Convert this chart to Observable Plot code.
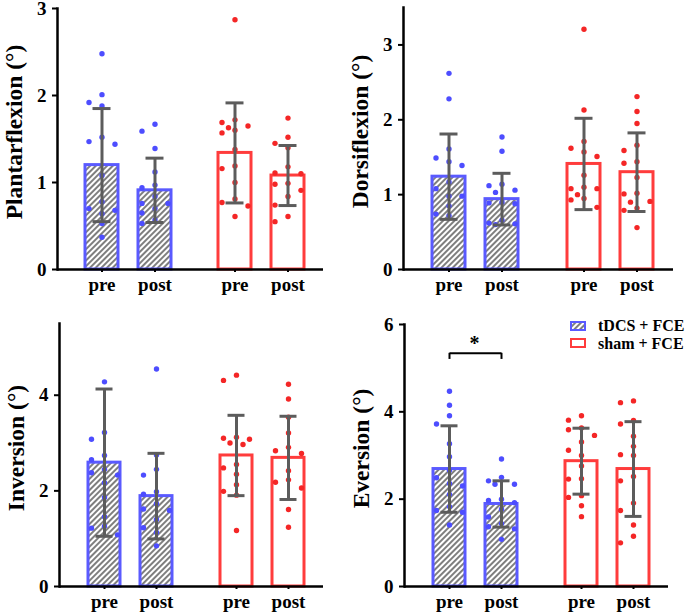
<!DOCTYPE html>
<html><head><meta charset="utf-8">
<script src="https://cdn.jsdelivr.net/npm/d3@7"></script>
<script src="https://cdn.jsdelivr.net/npm/@observablehq/plot@0.6"></script>
<style>
body{margin:0;background:#fff;}
#wrap{position:relative;width:685px;height:614px;overflow:hidden;font-family:'Liberation Serif','Times New Roman',serif;}
.panel{position:absolute;}
.legend{position:absolute;left:570px;top:317px;font-weight:bold;font-size:16px;line-height:17.5px;color:#000;}
.legend div{display:flex;align-items:center;white-space:nowrap;}
.legend svg{margin-right:12px;}
</style></head>
<body>
<svg width="0" height="0" style="position:absolute">
<defs><pattern id="hatch" width="4" height="4" patternUnits="userSpaceOnUse" patternTransform="rotate(45)">
<rect width="4" height="4" fill="#fff"/><line x1="1" y1="0" x2="1" y2="4" stroke="#5e5e5e" stroke-width="1.6"/></pattern></defs></svg>
<div id="wrap"></div>
<script>
const groups = ["tDCS", "sham"];
const times = ["pre", "post"];
const legendLabels = ["tDCS + FCE", "sham + FCE"];

// Plantarflexion
const plantarTdcsPre = [2.48, 2.01, 1.92, 1.88, 1.52, 1.47, 1.44, 1.08, 0.78, 0.70, 0.68, 0.64, 0.53, 0.37];
const plantarTdcsPost = [1.67, 1.59, 1.39, 1.12, 0.97, 0.94, 0.84, 0.76, 0.76, 0.70, 0.65, 0.57, 0.53];
const plantarShamPre = [2.87, 1.72, 1.69, 1.65, 1.63, 1.60, 1.57, 1.38, 1.19, 1.16, 1.00, 0.81, 0.77, 0.73, 0.61];
const plantarShamPost = [1.74, 1.52, 1.45, 1.40, 1.18, 1.11, 1.10, 0.99, 0.98, 0.91, 0.84, 0.74, 0.61, 0.55];
const plantarMean = [1.20, 0.91, 1.34, 1.08];
const plantarSD = [0.65, 0.37, 0.575, 0.345];

// Dorsiflexion
const dorsiTdcsPre = [2.62, 2.28, 1.61, 1.49, 1.44, 1.39, 1.17, 1.08, 0.98, 0.98, 0.85, 0.74, 0.72];
const dorsiTdcsPost = [1.77, 1.58, 1.14, 1.12, 1.06, 1.03, 0.90, 0.89, 0.88, 0.66, 0.62, 0.61, 0.60];
const dorsiShamPre = [3.21, 2.13, 1.71, 1.62, 1.57, 1.51, 1.26, 1.10, 1.08, 1.08, 1.00, 0.95, 0.93, 0.83];
const dorsiShamPost = [2.31, 2.11, 1.95, 1.66, 1.59, 1.44, 1.42, 1.23, 1.02, 1.01, 0.91, 0.90, 0.82, 0.79, 0.56];
const dorsiMean = [1.24, 0.94, 1.41, 1.30];
const dorsiSD = [0.57, 0.345, 0.61, 0.525];

// Inversion
const invTdcsPre = [4.28, 3.22, 3.08, 2.74, 2.65, 2.45, 2.38, 2.33, 2.17, 1.86, 1.46, 1.26, 1.22, 1.08];
const invTdcsPost = [4.55, 2.75, 2.45, 2.33, 1.98, 1.93, 1.73, 1.62, 1.59, 1.40, 1.23, 1.13, 0.85];
const invShamPre = [4.42, 4.31, 3.12, 3.10, 3.08, 3.00, 2.97, 2.55, 2.48, 2.35, 2.13, 1.99, 1.91, 1.17];
const invShamPost = [4.23, 3.92, 3.54, 3.21, 2.91, 2.84, 2.78, 2.42, 2.23, 2.18, 2.06, 1.61, 1.24];
const invMean = [2.59, 1.89, 2.74, 2.69];
const invSD = [1.54, 0.895, 0.84, 0.87];

// Eversion
const evTdcsPre = [4.47, 4.15, 3.91, 3.72, 3.27, 2.97, 2.66, 2.49, 2.36, 2.30, 2.11, 1.83, 1.74, 1.70, 1.41];
const evTdcsPost = [2.92, 2.50, 2.42, 2.34, 2.34, 2.00, 1.97, 1.92, 1.77, 1.59, 1.44, 1.37, 1.32, 1.08];
const evShamPre = [3.91, 3.81, 3.63, 3.59, 3.46, 3.31, 3.12, 3.00, 2.76, 2.47, 2.46, 2.08, 2.04, 1.85, 1.60];
const evShamPost = [4.25, 4.21, 3.80, 3.72, 3.44, 3.21, 3.02, 3.00, 2.52, 2.42, 1.91, 1.74, 1.41, 1.15, 1.00];
const evMean = [2.69, 1.89, 2.87, 2.69];
const evSD = [0.99, 0.53, 0.755, 1.085];

// significance annotation (Eversion, tDCS pre vs post)
const sigGroup = "tDCS";
const sigY = 5.34, sigTickY = 5.20, sigStarY = 5.56, sigLabel = "*";

const blue = "#5a5aff", red = "#ff3c3c", blueDot = "#4d4dff", redDot = "#f42626", gray = "#5c5c5c";
const fontFam = "'Liberation Serif','Times New Roman',serif";
const laneOffsets = [0, -13, 13, -6.5, 6.5];

function lanes(values, pxPerUnit) {
  const thr = 9;
  const placed = laneOffsets.map(() => []);
  return values.map(v => {
    let best = 0, bestD = -1;
    for (let k = 0; k < laneOffsets.length; k++) {
      const d = placed[k].length ? Math.min(...placed[k].map(u => Math.abs(u - v) * pxPerUnit)) : Infinity;
      if (d >= thr) { best = k; bestD = d; break; }
      if (d > bestD) { bestD = d; best = k; }
    }
    placed[best].push(v);
    return best;
  });
}

const panels = [
  {title: "Plantarflexion (°)", dots: [plantarTdcsPre, plantarTdcsPost, plantarShamPre, plantarShamPost], means: plantarMean, sds: plantarSD,
   ymax: 3, ticks: [0, 1, 2, 3], left: 0, top: 0, width: 340, height: 300, ml: 57, mr: 17, mt: 8, mb: 31},
  {title: "Dorsiflexion (°)", dots: [dorsiTdcsPre, dorsiTdcsPost, dorsiShamPre, dorsiShamPost], means: dorsiMean, sds: dorsiSD,
   ymax: 3.5, ticks: [0, 1, 2, 3], left: 340, top: 0, width: 345, height: 300, ml: 63, mr: 12, mt: 7, mb: 31},
  {title: "Inversion (°)", dots: [invTdcsPre, invTdcsPost, invShamPre, invShamPost], means: invMean, sds: invSD,
   ymax: 5.5, ticks: [0, 2, 4], left: 0, top: 300, width: 340, height: 314, ml: 58, mr: 17, mt: 23, mb: 28},
  {title: "Eversion (°)", dots: [evTdcsPre, evTdcsPost, evShamPre, evShamPost], means: evMean, sds: evSD,
   ymax: 6, ticks: [0, 2, 4, 6], left: 340, top: 300, width: 345, height: 314, ml: 63, mr: 17, mt: 24, mb: 28, sig: true}
];

const wrap = document.getElementById("wrap");

for (const cfg of panels) {
  const pxPerUnit = (cfg.height - cfg.mt - cfg.mb) / cfg.ymax;
  const rows = [];
  cfg.dots.forEach((vals, i) => {
    const g = groups[i >> 1], t = times[i % 2];
    const ln = lanes(vals, pxPerUnit);
    vals.forEach((v, j) => rows.push({group: g, time: t, value: v, lane: ln[j]}));
  });
  const stats = cfg.means.map((m, i) => ({group: groups[i >> 1], time: times[i % 2], mean: m, lo: m - cfg.sds[i], hi: m + cfg.sds[i]}));
  const marks = [
    Plot.barY(stats.filter(d => d.group === "tDCS"), {fx: "group", x: "time", y: "mean", fill: "url(#hatch)", stroke: blue, strokeWidth: 3}),
    Plot.barY(stats.filter(d => d.group === "sham"), {fx: "group", x: "time", y: "mean", fill: "white", stroke: red, strokeWidth: 3})
  ];
  laneOffsets.forEach((off, k) => {
    marks.push(Plot.dot(rows.filter(d => d.lane === k && d.group === "tDCS"), {fx: "group", x: "time", y: "value", r: 2.7, fill: blueDot, dx: off}));
    marks.push(Plot.dot(rows.filter(d => d.lane === k && d.group === "sham"), {fx: "group", x: "time", y: "value", r: 2.7, fill: redDot, dx: off}));
  });
  marks.push(
    Plot.ruleX(stats, {fx: "group", x: "time", y1: "lo", y2: "hi", stroke: gray, strokeWidth: 3}),
    Plot.tickY(stats, {fx: "group", x: "time", y: "hi", stroke: gray, strokeWidth: 3, insetLeft: 7.5, insetRight: 7.5}),
    Plot.tickY(stats, {fx: "group", x: "time", y: "lo", stroke: gray, strokeWidth: 3, insetLeft: 7.5, insetRight: 7.5}),
    Plot.ruleY([0], {stroke: "black", strokeWidth: 2.5}),
    Plot.frame({anchor: "left", facetAnchor: "left", stroke: "black", strokeWidth: 2.5}),
    Plot.axisX({tickSize: 3, tickPadding: 5, fontSize: 19, strokeWidth: 2}),
    Plot.axisY({ticks: cfg.ticks, tickFormat: d3.format("d"), tickSize: 5, tickPadding: 6, fontSize: 19, strokeWidth: 2, label: null}),
    Plot.text([{group: groups[0], title: cfg.title}], {fx: "group", text: "title", frameAnchor: "left", rotate: -90, lineAnchor: "top", textAnchor: "middle", dx: -52, dy: -7, fontSize: 23.5, fontWeight: "bold"})
  );
  if (cfg.sig) {
    const sig = [{group: sigGroup, from: times[0], to: times[1], y: sigY, label: sigLabel}];
    const sigEnds = times.map(t => ({group: sigGroup, time: t}));
    marks.push(
      Plot.link(sig, {fx: "group", x1: "from", x2: "to", y1: "y", y2: "y", stroke: "black", strokeWidth: 2}),
      Plot.ruleX(sigEnds, {fx: "group", x: "time", y1: sigTickY, y2: sigY, stroke: "black", strokeWidth: 2}),
      Plot.text(sig, {fx: "group", text: "label", y: sigStarY, frameAnchor: "middle", dx: 4, fontSize: 20, fontWeight: "bold"})
    );
  }
  const chart = Plot.plot({
    width: cfg.width, height: cfg.height,
    marginLeft: cfg.ml, marginRight: cfg.mr, marginTop: cfg.mt, marginBottom: cfg.mb,
    style: {fontFamily: fontFam, fontWeight: "bold", color: "black", background: "transparent", overflow: "visible"},
    fx: {domain: groups, padding: 0, axis: null, label: null},
    x: {domain: times, paddingInner: 0.377, paddingOuter: 0.443, align: 0.6, label: null},
    y: {domain: [0, cfg.ymax], label: null},
    marks
  });
  const div = document.createElement("div");
  div.className = "panel";
  div.style.left = cfg.left + "px"; div.style.top = cfg.top + "px";
  div.style.width = cfg.width + "px"; div.style.height = cfg.height + "px";
  div.appendChild(chart);
  wrap.appendChild(div);
}

// legend
const leg = document.createElement("div");
leg.className = "legend";
const swatchStyles = [{fill: "url(#hatch)", stroke: blue}, {fill: "white", stroke: red}];
legendLabels.forEach((lab, i) => {
  const row = document.createElement("div");
  row.innerHTML = `<svg width="16" height="10"><rect x="1" y="1" width="14" height="8" fill="${swatchStyles[i].fill}" stroke="${swatchStyles[i].stroke}" stroke-width="2"/></svg><span>${lab}</span>`;
  leg.appendChild(row);
});
wrap.appendChild(leg);
</script>
</body></html>
